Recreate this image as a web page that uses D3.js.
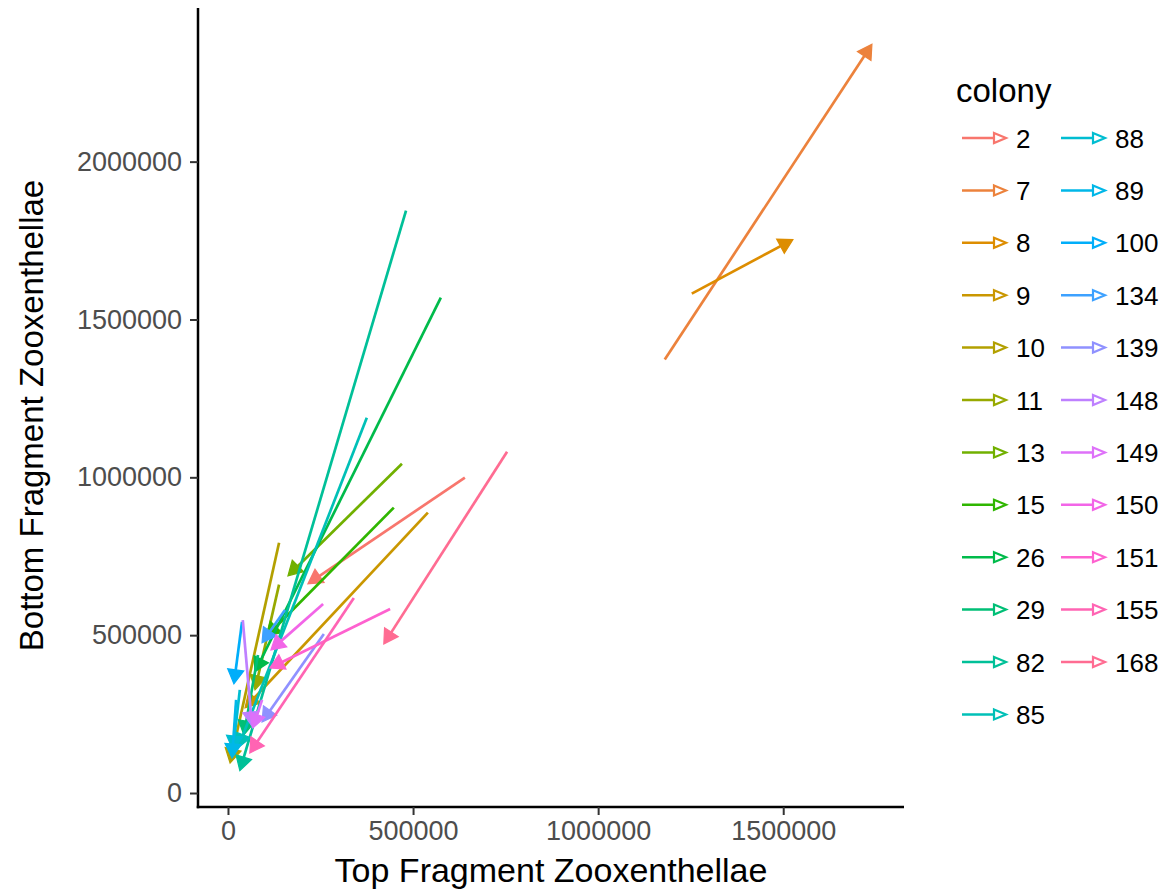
<!doctype html>
<html>
<head>
<script src="https://d3js.org/d3.v7.min.js"></script>
<style>
body { margin: 0; background: #fff; }
text { font-family: "Liberation Sans", Arial, Helvetica, sans-serif; }
</style>
</head>
<body>
<script>
// colony order as in the legend
var colonies = ['2','7','8','9','10','11','13','15','26','29','82','85','88','89','100','134','139','148','149','150','151','155','168'];
// path start (top, bottom) and end (top, bottom) per colony
var topStart = [640000,1180000,1253000,540000,138000,138000,470000,448000,575000,81000,481000,375000,32000,22000,38000,154000,259000,40000,92000,257000,438000,340000,754000];
var botStart = [999000,1373000,1582000,888000,793000,660000,1043000,904000,1569000,437000,1845000,1189000,327000,295000,542000,580000,504000,548000,295000,599000,583000,618000,1081000];
var topEnd   = [216000,1739600,1526000,46000,5700,73000,162000,103000,73000,43000,32000,27000,13500,11000,16000,92000,92000,65000,67000,116000,113000,59000,421000];
var botEnd   = [663000,2371600,1753000,270000,95000,327000,688000,495000,384000,184000,70750,143000,136000,111000,346000,476000,225000,212000,206000,453000,396000,127000,472000];
var xTicks = [0,500000,1000000,1500000];
var yTicks = [0,500000,1000000,1500000,2000000];

var W = 1169, H = 892;
var panel = {left:198, right:904, top:8, bottom:807};

// R's hcl() (polar LUV) -> hex, like scales::hue_pal
function hclR(h, c, l) {
	var hr = h*Math.PI/180, U = c*Math.cos(hr), V = c*Math.sin(hr);
	var Y = 100*(l > 7.999592 ? Math.pow((l+16)/116,3) : l/903.3);
	var u = U/(13*l) + 0.1978398, v = V/(13*l) + 0.4683363;
	var X = 9*Y*u/(4*v), Z = -X/3 - 5*Y + 3*Y/v;
	function g(t) { t = t > 0.00304 ? 1.055*Math.pow(t,1/2.4) - 0.055 : 12.92*t; return Math.round(255*Math.max(0,Math.min(1,t))); }
	return d3.rgb(g((3.240479*X - 1.537150*Y - 0.498535*Z)/100),
	              g((-0.969256*X + 1.875992*Y + 0.041556*Z)/100),
	              g((0.055648*X - 0.204043*Y + 1.057311*Z)/100)).formatHex();
}
var n = colonies.length;
var colors = colonies.map(function(d,i){ return hclR(15 + i*360/n, 100, 65); });
var color = d3.scaleOrdinal().domain(colonies).range(colors);

var data = colonies.map(function(c,i){
	return {colony:c, pts:[[topStart[i],botStart[i]],[topEnd[i],botEnd[i]]]};
});

function expand(ext) { var d = (ext[1]-ext[0])*0.05; return [ext[0]-d, ext[1]+d]; }
var xExt = d3.extent(topStart.concat(topEnd));
var yExt = d3.extent(botStart.concat(botEnd));
var x = d3.scaleLinear().domain(expand(xExt)).range([panel.left, panel.right]);
var y = d3.scaleLinear().domain(expand(yExt)).range([panel.bottom, panel.top]);

var svg = d3.select('body').append('svg').attr('width',W).attr('height',H);

// axes
var xAxis = d3.axisBottom(x).tickValues(xTicks).tickFormat(d3.format('d')).tickSizeOuter(0).tickSize(8).tickPadding(6);
var yAxis = d3.axisLeft(y).tickValues(yTicks).tickFormat(d3.format('d')).tickSizeOuter(0).tickSize(8).tickPadding(8);
var gx = svg.append('g').attr('transform','translate(0,'+panel.bottom+')').call(xAxis);
var gy = svg.append('g').attr('transform','translate('+panel.left+',0)').call(yAxis);
[gx,gy].forEach(function(g){
	g.select('.domain').attr('stroke','#000').attr('stroke-width',2.5);
	g.selectAll('.tick line').attr('stroke','#333').attr('stroke-width',2);
	g.selectAll('.tick text').attr('fill','#4d4d4d').style('font-size','27px');
});
gx.select('.domain').attr('d','M'+(panel.left-1.25)+',0H'+panel.right);
gy.select('.domain').attr('d','M0,'+panel.top+'V'+(panel.bottom+1.25));

svg.append('text').attr('x',(panel.left+panel.right)/2).attr('y',882)
	.attr('text-anchor','middle').style('font-size','34px').text('Top Fragment Zooxenthellae');
svg.append('text').attr('transform','translate(43,'+((panel.top+panel.bottom)/2 + 8)+') rotate(-90)')
	.attr('text-anchor','middle').style('font-size','33px').text('Bottom Fragment Zooxenthellae');

// paths with closed arrowheads
var aLen = 14, aAng = Math.PI/6;
var plot = svg.append('g');
data.forEach(function(d){
	var p = d.pts.map(function(q){ return [x(q[0]), y(q[1])]; });
	var a = p[p.length-2], b = p[p.length-1];
	var ang = Math.atan2(b[1]-a[1], b[0]-a[0]);
	var end = [b[0]-Math.cos(ang)*aLen*0.5, b[1]-Math.sin(ang)*aLen*0.5];
	var line = p.slice(0,-1).concat([end]);
	plot.append('path').attr('d', d3.line()(line))
		.attr('fill','none').attr('stroke',color(d.colony)).attr('stroke-width',2.7);
	var hw = aLen*Math.tan(aAng);
	var bx = b[0]-Math.cos(ang)*aLen, by = b[1]-Math.sin(ang)*aLen;
	var head = [b,
		[bx - Math.sin(ang)*hw, by + Math.cos(ang)*hw],
		[bx + Math.sin(ang)*hw, by - Math.cos(ang)*hw]];
	plot.append('path').attr('d', d3.line()(head)+'Z')
		.attr('fill',color(d.colony)).attr('stroke',color(d.colony)).attr('stroke-width',1.2);
});

// legend
var leg = svg.append('g');
leg.append('text').attr('x',956).attr('y',102).style('font-size','33px').text('colony');
var rows = 12;
colonies.forEach(function(c,i){
	var col = Math.floor(i/rows), row = i%rows;
	var kx = 962 + col*99, ky = 138 + row*52.4;
	var g = leg.append('g').attr('transform','translate('+kx+','+ky+')');
	g.append('line').attr('x1',0).attr('x2',40).attr('y1',0).attr('y2',0)
		.attr('stroke',color(c)).attr('stroke-width',2.5);
	g.append('path').attr('d','M32,-5L44,0L32,5Z').attr('fill','#fff')
		.attr('stroke',color(c)).attr('stroke-width',2.2);
	g.append('text').attr('x',54).attr('y',9.5).style('font-size','26px').text(c);
});
</script>
</body>
</html>
